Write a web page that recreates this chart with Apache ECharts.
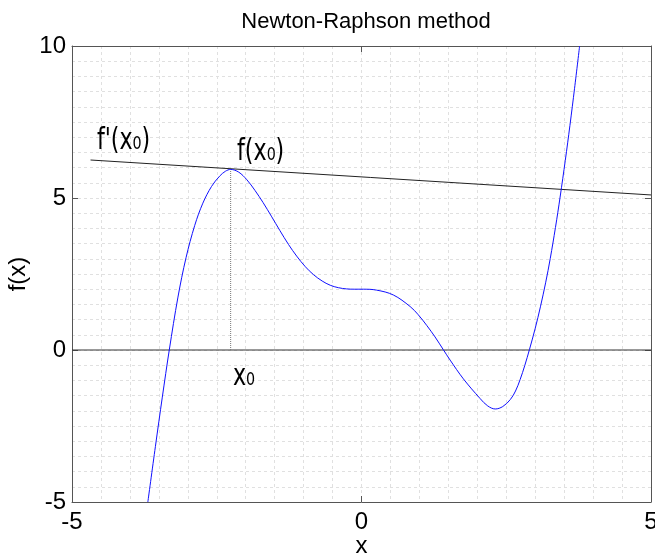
<!DOCTYPE html>
<html>
<head>
<meta charset="utf-8">
<title>Newton-Raphson method</title>
<script src="https://cdn.jsdelivr.net/npm/echarts@6/dist/echarts.min.js"></script>
<style>
  html, body { margin: 0; padding: 0; background: #fff; }
  #chart { width: 655px; height: 559px; }
</style>
</head>
<body>
<div id="chart"></div>
<script>
  // values
  var curveX = [-3.69, -3.56, -3.44, -3.32, -3.17, -3.03, -2.88, -2.74, -2.59, -2.45, -2.35, -2.26,
    -2.12, -1.98, -1.84, -1.70, -1.55, -1.41, -1.26, -1.12, -0.97, -0.83, -0.68, -0.54, -0.40, -0.26, -0.12,
    0.03, 0.26, 0.55, 0.84, 0.98, 1.13, 1.27, 1.41, 1.53, 1.76, 2.05, 2.18, 2.31,
    2.44, 2.57, 2.66, 2.74, 2.82, 2.90, 3.00, 3.09, 3.18, 3.26, 3.35, 3.43, 3.52, 3.60, 3.68, 3.767];
  var curveY = [-5, -3.18, -1.55, 0, 1.74, 3.04, 4.10, 4.83, 5.38, 5.72, 5.88, 5.94,
    5.85, 5.60, 5.25, 4.85, 4.38, 3.93, 3.47, 3.09, 2.74, 2.48, 2.27, 2.13, 2.05, 2.01, 2.00,
    2.00, 1.97, 1.81, 1.43, 1.16, 0.80, 0.43, 0.02, -0.33, -0.95, -1.60, -1.84, -1.94,
    -1.86, -1.63, -1.35, -0.97, -0.51, 0.01, 0.71, 1.42, 2.21, 3.01, 4.03, 5.03, 6.24, 7.39, 8.61, 10];
  var tangentX = [-4.68, 5];
  var tangentY = [6.25, 5.10];
  var zeroX = [-5, 5];
  var zeroY = [0, 0];
  var dropX = [-2.26, -2.26];
  var dropY = [0, 5.94];
  var xTicks = [-5, 0, 5];
  var yTicks = [-5, 0, 5, 10];
  // annotations: text and anchor in data units (left edge, text middle)
  var noteText = ["f'(x₀)", 'f(x₀)', 'x₀'];
  var noteX = [-4.57, -2.15, -2.22];
  var noteY = [6.87, 6.51, -0.89];

  function pairs(xs, ys) {
    return xs.map(function (x, i) { return [x, ys[i]]; });
  }

  var chart = echarts.init(document.getElementById('chart'));
  var gridStyle = { color: '#e0e0e0', type: [3, 3], width: 1 };
  var frameLine = { show: true, onZero: false, lineStyle: { color: '#555', width: 1 } };
  var tickStyle = { show: true, inside: true, length: 6, lineStyle: { color: '#555' } };
  var labelFont = { color: '#000', fontSize: 24, fontFamily: '"Liberation Sans", Arial, sans-serif' };

  var option = {
    animation: false,
    title: {
      text: 'Newton-Raphson method',
      left: 361,
      top: 6,
      textAlign: 'center',
      textStyle: { color: '#000', fontSize: 22, fontWeight: 'normal', fontFamily: '"Liberation Sans", Arial, sans-serif' }
    },
    grid: { left: 72, right: 4, top: 46, bottom: 57, containLabel: false, outerBoundsMode: 'none' },
    xAxis: [{
      type: 'value', min: xTicks[0], max: xTicks[xTicks.length - 1], interval: 5,
      name: 'x', nameLocation: 'middle', nameGap: 32, nameMoveOverlap: false,
      nameTextStyle: labelFont,
      axisLine: frameLine, axisTick: tickStyle,
      axisLabel: Object.assign({ margin: 8 }, labelFont),
      splitLine: { show: true, lineStyle: gridStyle },
      minorTick: { show: false, splitNumber: 10 },
      minorSplitLine: { show: true, lineStyle: gridStyle }
    }, {
      type: 'value', position: 'top', min: -5, max: 5, interval: 5,
      axisLine: frameLine, axisTick: tickStyle,
      axisLabel: { show: false }, splitLine: { show: false }
    }],
    yAxis: [{
      type: 'value', min: yTicks[0], max: yTicks[yTicks.length - 1], interval: 5,
      name: 'f(x)', nameLocation: 'middle', nameGap: 42, nameRotate: 90, nameMoveOverlap: false,
      nameTextStyle: labelFont,
      axisLine: frameLine, axisTick: tickStyle,
      axisLabel: Object.assign({ margin: 6 }, labelFont),
      splitLine: { show: true, lineStyle: gridStyle },
      minorTick: { show: false, splitNumber: 10 },
      minorSplitLine: { show: true, lineStyle: gridStyle }
    }, {
      type: 'value', position: 'right', min: -5, max: 10, interval: 5,
      axisLine: frameLine, axisTick: tickStyle,
      axisLabel: { show: false }, splitLine: { show: false }
    }],
    series: [{
      name: 'zero', type: 'line', data: pairs(zeroX, zeroY), symbol: 'none',
      lineStyle: { color: '#333', width: 1 }, silent: true
    }, {
      name: 'drop', type: 'line', data: pairs(dropX, dropY), symbol: 'none',
      lineStyle: { color: '#777', width: 1, type: [1, 1] }, silent: true
    }, {
      name: 'tangent', type: 'line', data: pairs(tangentX, tangentY), symbol: 'none',
      lineStyle: { color: '#222', width: 1 }, silent: true
    }, {
      name: 'f(x)', type: 'line', data: pairs(curveX, curveY), symbol: 'none', smooth: 0.35,
      lineStyle: { color: '#1010ff', width: 1 }, clip: true
    }]
  };
  chart.setOption(option);

  // text notes, narrow like the reference font
  var notes = noteText.map(function (t, i) {
    var p = chart.convertToPixel({ xAxisIndex: 0, yAxisIndex: 0 }, [noteX[i], noteY[i]]);
    return {
      type: 'text', x: p[0], y: p[1], scaleX: 0.74,
      style: {
        text: t, fill: '#000', font: '30px "DejaVu Sans", sans-serif',
        textAlign: 'left', textVerticalAlign: 'middle', align: 'left', verticalAlign: 'middle'
      }
    };
  });
  chart.setOption({ graphic: notes });

  window.addEventListener('resize', function () {
    chart.resize();
  });
</script>
</body>
</html>
